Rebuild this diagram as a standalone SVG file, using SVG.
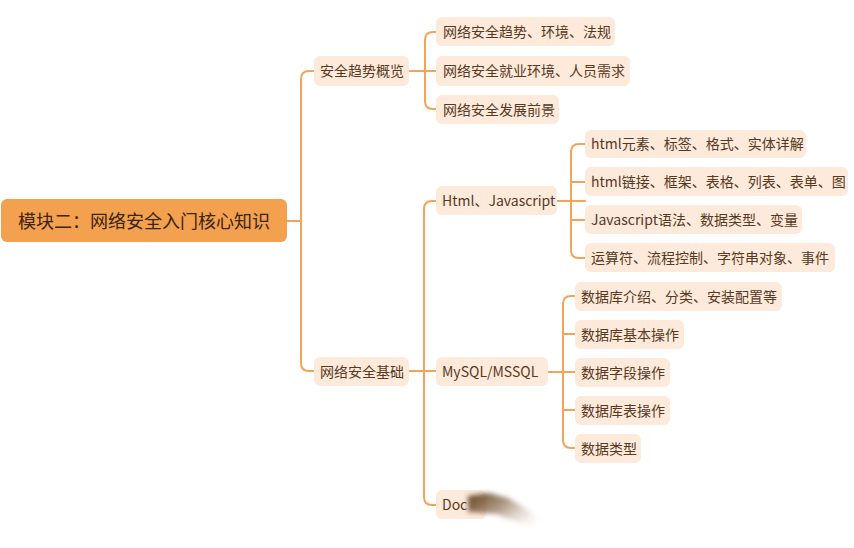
<svg xmlns="http://www.w3.org/2000/svg" width="854" height="548" viewBox="0 0 854 548">
<defs>
<style>
.box{fill:#fdeadb;}
.t{font-family:"Noto Sans CJK SC","Noto Sans",sans-serif;font-size:14px;fill:#57391f;dominant-baseline:central;}
.root{fill:#f4a14f;}
.rt{font-family:"Noto Sans CJK SC","Noto Sans",sans-serif;font-size:18px;fill:#3b2410;dominant-baseline:central;}
.c{fill:none;stroke:#f2a55a;stroke-width:2;stroke-linecap:round;}
</style>
<linearGradient id="smg" x1="0" y1="0" x2="1" y2="0.6">
<stop offset="0" stop-color="#5e3f22" stop-opacity="1"/>
<stop offset="0.45" stop-color="#8a6a4c" stop-opacity="0.7"/>
<stop offset="1" stop-color="#d8c6b2" stop-opacity="0"/>
</linearGradient>
<filter id="bl" x="-50%" y="-50%" width="200%" height="200%"><feGaussianBlur stdDeviation="2.5"/></filter>
</defs>
<rect width="854" height="548" fill="#ffffff"/>
<g id="connectors">
<path class="c" d="M287 221 H301"/>
<path class="c" d="M314 71 H309 Q301 71 301 79 V363 Q301 371 309 371 H314"/>
<path class="c" d="M409 71 H436"/>
<path class="c" d="M436 32 H433 Q425 32 425 40 V101 Q425 109 433 109 H436"/>
<path class="c" d="M409 371 H436"/>
<path class="c" d="M436 201 H432 Q424 201 424 209 V497 Q424 505 432 505 H436"/>
<path class="c" d="M557 201 H585"/>
<path class="c" d="M585 144 H579 Q571 144 571 152 V250 Q571 258 579 258 H585"/>
<path class="c" d="M571 182 H585"/>
<path class="c" d="M571 220 H585"/>
<path class="c" d="M548 372 H575"/>
<path class="c" d="M575 296 H571 Q563 296 563 304 V440 Q563 448 571 448 H575"/>
<path class="c" d="M563 334 H575"/>
<path class="c" d="M563 410 H575"/>
</g>
<g id="root"><rect class="root" x="1" y="199" width="286" height="43" rx="6"/><text class="rt" x="18" y="220">模块二：网络安全入门核心知识</text></g>
<g id="n1"><rect class="box" x="314" y="56" width="95" height="30" rx="6"/><text class="t" x="320" y="70">安全趋势概览</text></g>
<g id="n2"><rect class="box" x="314" y="357" width="95" height="29" rx="6"/><text class="t" x="320" y="370.5">网络安全基础</text></g>
<g id="n1a"><rect class="box" x="436" y="17" width="179" height="29" rx="6"/><text class="t" x="443" y="30.5">网络安全趋势、环境、法规</text></g>
<g id="n1b"><rect class="box" x="436" y="56" width="194" height="30" rx="6"/><text class="t" x="443" y="70">网络安全就业环境、人员需求</text></g>
<g id="n1c"><rect class="box" x="436" y="95" width="123" height="29" rx="6"/><text class="t" x="443" y="108.5">网络安全发展前景</text></g>
<g id="n2a"><rect class="box" x="436" y="186" width="121" height="29" rx="6"/><text class="t" x="442" y="199.5">Html、Javascript</text></g>
<g id="n2b"><rect class="box" x="436" y="357" width="112" height="29" rx="6"/><text class="t" x="442" y="370.5">MySQL/MSSQL</text></g>
<g id="n2c"><rect class="box" x="436" y="490" width="50" height="29" rx="6"/><text class="t" x="442" y="503.5">Doc</text>
<polygon points="468,496 488,493 508,498 528,510 548,528 540,530 518,522 496,514 468,512" fill="url(#smg)" filter="url(#bl)"/></g>
<g id="h1"><rect class="box" x="585" y="130" width="221" height="28" rx="6"/><text class="t" x="591" y="143">html元素、标签、格式、实体详解</text></g>
<g id="h2"><rect class="box" x="585" y="167" width="263" height="29" rx="6"/><text class="t" x="591" y="180.5">html链接、框架、表格、列表、表单、图</text></g>
<g id="h3"><rect class="box" x="585" y="205" width="217" height="29" rx="6"/><text class="t" x="591" y="218.5">Javascript语法、数据类型、变量</text></g>
<g id="h4"><rect class="box" x="585" y="243" width="250" height="29" rx="6"/><text class="t" x="591" y="256.5">运算符、流程控制、字符串对象、事件</text></g>
<g id="m1"><rect class="box" x="575" y="282" width="207" height="29" rx="6"/><text class="t" x="581" y="295.5">数据库介绍、分类、安装配置等</text></g>
<g id="m2"><rect class="box" x="575" y="320" width="109" height="29" rx="6"/><text class="t" x="581" y="333.5">数据库基本操作</text></g>
<g id="m3"><rect class="box" x="575" y="358" width="95" height="29" rx="6"/><text class="t" x="581" y="371.5">数据字段操作</text></g>
<g id="m4"><rect class="box" x="575" y="396" width="95" height="29" rx="6"/><text class="t" x="581" y="409.5">数据库表操作</text></g>
<g id="m5"><rect class="box" x="575" y="434" width="66" height="29" rx="6"/><text class="t" x="581" y="447.5">数据类型</text></g>
</svg>
